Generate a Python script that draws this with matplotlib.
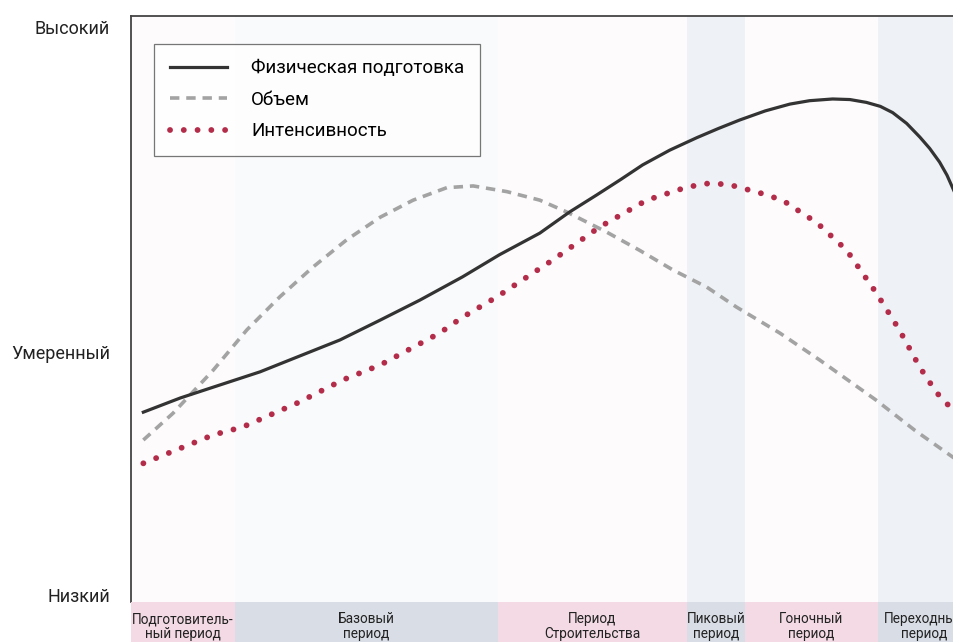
import numpy as np
import matplotlib
matplotlib.use('Agg')
import matplotlib.pyplot as plt

plt.rcParams['font.family'] = ['Roboto', 'DejaVu Sans']

# season position (0..102) and level (0 = low, 100 = high)
fitness_x = [1.5, 6.0, 10.0, 15.7, 20.2, 25.4, 30.3, 35.1, 40.3, 44.8, 49.7, 53.3, 56.6,
             59.5, 62.2, 65.5, 68.8, 71.4, 74.0, 77.1, 80.1, 82.5, 85.3, 87.4, 89.4,
             91.1, 92.6, 94.3, 95.9, 97.1, 98.3, 99.2, 100.0, 102.0]
fitness_y = [32.2, 34.7, 36.6, 39.3, 41.9, 44.9, 48.4, 51.9, 56.0, 59.9, 63.7, 67.4, 70.4,
             73.1, 75.7, 78.3, 80.5, 82.1, 83.6, 85.2, 86.4, 87.0, 87.3, 87.2, 86.7,
             86.0, 84.9, 83.0, 80.6, 78.6, 76.2, 73.9, 71.3, 65.1]

volume_x = [1.5, 5.1, 10.0, 14.1, 18.1, 22.1, 26.2, 30.3, 34.3, 38.4, 41.6, 45.7, 49.7,
            53.0, 57.8, 61.8, 65.9, 70.0, 73.6, 78.9, 83.7, 90.6, 95.3, 99.9, 102.0]
volume_y = [27.3, 32.0, 39.6, 46.7, 52.5, 57.7, 62.5, 66.5, 69.5, 71.7, 72.0, 71.0, 69.5,
            67.4, 63.9, 60.7, 57.2, 54.2, 50.7, 46.1, 41.4, 34.3, 29.0, 24.3, 22.4]

intensity_x = [1.5, 10.0, 13.6, 20.2, 25.8, 30.3, 37.5, 40.3, 44.5, 51.3, 57.0, 62.7, 67.6,
               70.4, 72.8, 76.4, 79.2, 83.4, 87.0, 90.6, 93.4, 95.9, 97.9, 99.9, 102.0]
intensity_y = [23.2, 28.2, 29.6, 33.8, 37.9, 40.5, 46.1, 48.9, 52.5, 59.0, 64.8, 69.5, 71.8,
               72.5, 72.2, 70.8, 69.5, 65.5, 60.7, 53.2, 46.7, 40.1, 35.7, 32.6, 29.9]

level_ticks = [0, 42.8, 100]
level_labels = ['Низкий', 'Умеренный', 'Высокий']

period_edges = [0, 12.6, 44.6, 67.6, 74.6, 90.8, 102]
period_names = ['Подготовитель-\nный период', 'Базовый\nпериод', 'Период\nСтроительства',
                'Пиковый\nпериод', 'Гоночный\nпериод', 'Переходный\nпериод']

W, H = 954, 642
fig = plt.figure(figsize=(W / 100, H / 100), dpi=100)

left_px, right_px, top_px, bot_px = 131, 970, 16, 602
ax = fig.add_axes([left_px / W, 1 - bot_px / H, (right_px - left_px) / W, (bot_px - top_px) / H])

pink = '#f3dae4'
blue = '#d9dee6'
band_cols = [pink, blue, pink, blue, pink, blue]
tint_cols = ['#fdfbfc', '#f9fafb', '#fdfbfc', '#eef2f6', '#fdfbfc', '#eef2f6']

for i in range(len(period_names)):
    ax.axvspan(period_edges[i], period_edges[i + 1], color=tint_cols[i], lw=0, zorder=0)

ax.plot(fitness_x, fitness_y, color='#333333', lw=2.3, label='Физическая подготовка',
        solid_joinstyle='round', zorder=3)
ax.plot(volume_x, volume_y, color='#a3a3a3', lw=2.6, linestyle=(0, (2.6, 1.9)),
        label='Объем', zorder=2)
ax.plot(intensity_x, intensity_y, color='#b32d4a', lw=4.2, linestyle=(0, (0.01, 2.35)),
        dash_capstyle='round', label='Интенсивность', zorder=2)

ax.set_xlim(0, 102)
ax.set_ylim(-1.2, 101.9)
ax.set_xticks([])
ax.set_yticks(level_ticks)
ax.set_yticklabels(level_labels, fontsize=13, color='#222222')
ax.tick_params(axis='y', length=0, pad=15)
for s in ['right', 'bottom']:
    ax.spines[s].set_visible(False)
ax.spines['left'].set_color('#444444')
ax.spines['top'].set_color('#444444')
ax.spines['left'].set_linewidth(1.3)
ax.spines['top'].set_linewidth(1.3)

leg = ax.legend(loc='upper left', bbox_to_anchor=(0.028, 0.953), fontsize=13.5,
                frameon=True, fancybox=False, handlelength=3.0, handletextpad=1.3,
                borderpad=0.85, labelspacing=0.72, borderaxespad=0)
leg.get_frame().set_edgecolor('#555555')
leg.get_frame().set_linewidth(0.9)

# period strip along the bottom
band_bot = 662
bx = fig.add_axes([left_px / W, 1 - band_bot / H, (right_px - left_px) / W, (band_bot - bot_px) / H])
for i, name in enumerate(period_names):
    bx.axvspan(period_edges[i], period_edges[i + 1], color=band_cols[i], lw=0)
    bx.text((period_edges[i] + period_edges[i + 1]) / 2, 0.59, name, ha='center', va='center',
            fontsize=9.8, linespacing=1.1, color='#222222')
bx.set_xlim(0, 102)
bx.set_ylim(0, 1)
bx.axis('off')

fig.savefig('out.png', dpi=100)
